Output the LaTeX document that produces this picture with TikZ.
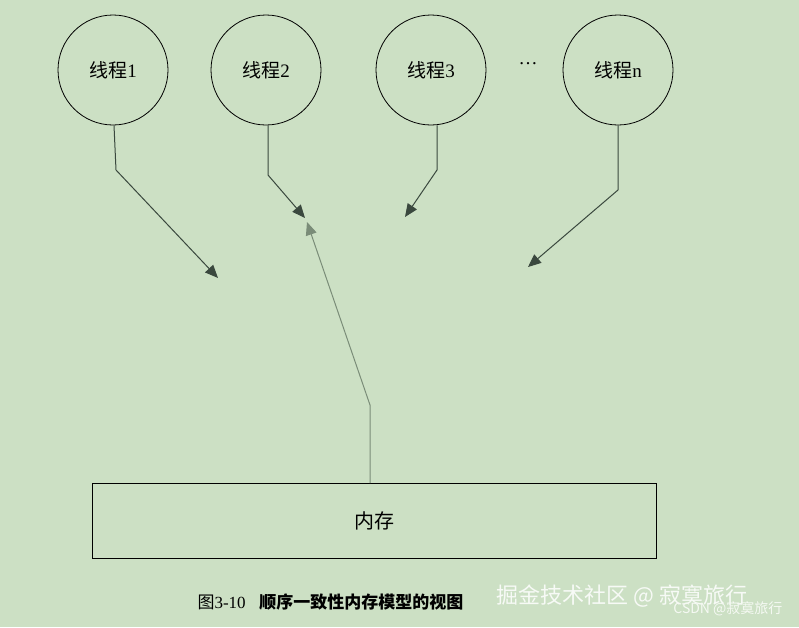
\documentclass[tikz,border=0pt]{standalone}
\usepackage{fontspec}
\setmainfont{Liberation Serif}
\newfontfamily\cjk{Noto Sans CJK SC}
\usetikzlibrary{arrows.meta}
\definecolor{bg}{RGB}{204,224,196}
\definecolor{darr}{RGB}{58,72,62}
\definecolor{larr}{RGB}{122,140,120}
\tikzset{thr/.style={circle,draw=black,line width=0.8pt,minimum size=110pt,inner sep=0pt,font=\fontsize{19}{19}\selectfont},
 darrow/.style={draw=darr,line width=1pt,-{Triangle[length=13pt,width=11pt]}},
 larrow/.style={draw=larr,line width=1pt,-{Triangle[length=13pt,width=11pt]}}}
\begin{document}
\begin{tikzpicture}[x=1pt,y=-1pt]
\fill[bg] (0,0) rectangle (799,627);
\useasboundingbox (0,0) rectangle (799,627);
\node[thr] (t1) at (113,70) {{\cjk 线程}1};
\node[thr] (t2) at (266,70) {{\cjk 线程}2};
\node[thr] (t3) at (431,70) {{\cjk 线程}3};
\node[thr] (tn) at (618,70) {{\cjk 线程}n};
\node[font=\fontsize{19}{19}\selectfont] (dots) at (528,64) {\dots};
\node[draw=black,line width=0.8pt,minimum width=564pt,minimum height=75pt,inner sep=0pt,font=\cjk\fontsize{20}{20}\selectfont] (mem) at (374,521) {内存};
\coordinate (a1) at (218,278);
\coordinate (a2) at (305,218);
\coordinate (a3) at (405,217);
\coordinate (an) at (528,267);
\coordinate (am) at (307,222);
\draw[darrow] (t1.south) ++(1,0) -- (116,170) -- (a1);
\draw[darrow] (t2.south) ++(2,0) -- (268,175) -- (a2);
\draw[darrow] (t3.south) ++(6,0) -- (437,170) -- (a3);
\draw[darrow] (tn.south) -- (618,190) -- (an);
\draw[larrow] (mem.north -| 370,0) -- (370,405) -- (am);
\node[font=\fontsize{17}{17}\selectfont,anchor=west] (cap) at (194,602) {{\cjk 图}3-10\hspace{0.8em}{\cjk\bfseries 顺序一致性内存模型的视图}};
\node[font=\cjk\fontsize{22}{22}\selectfont,text=white!85!bg,anchor=west] (wm) at (493,596) {掘金技术社区 @ 寂寞旅行};
\node[font=\cjk\fontsize{14}{14}\selectfont,text=white!80!bg,anchor=east] (wm2) at (786,609) {CSDN @寂寞旅行};
\end{tikzpicture}
\end{document}
